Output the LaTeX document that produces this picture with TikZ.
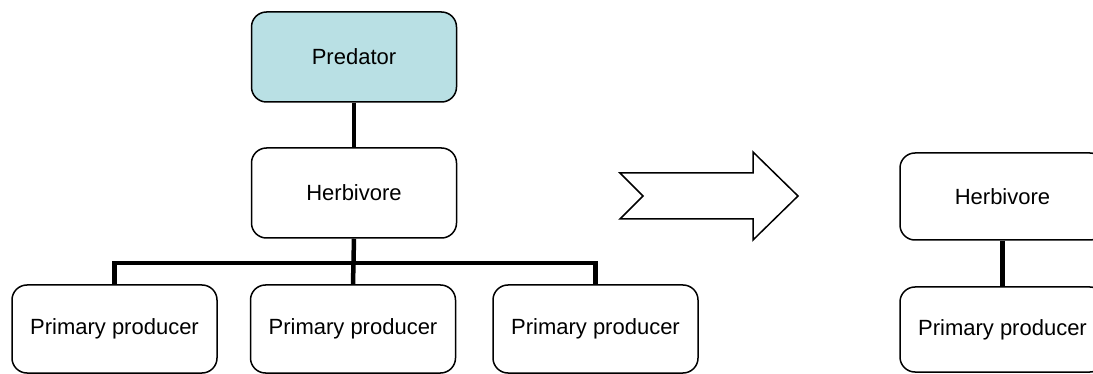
\documentclass[tikz,border=0pt]{standalone}
\usepackage{fontspec}
\setmainfont{Liberation Sans}
\definecolor{predfill}{RGB}{185,224,228}
\begin{document}
\begin{tikzpicture}[x=1pt,y=-1pt,
  box/.style={draw=black, line width=1.5pt, rounded corners=15pt, fill=white,
    minimum width=205pt, minimum height=#1, inner sep=0pt,
    font=\fontsize{22pt}{26pt}\selectfont},
  box/.default=88pt,
  link/.style={line width=4.5pt, line join=miter, line cap=rect}]
\useasboundingbox (0,0) rectangle (1093,374);
\begin{scope}
\clip (0,0) rectangle (1093,374);
% connectors (behind boxes)
\coordinate (bar) at (354,263);
\node[box=90pt, fill=predfill] (pred) at (354,57) {Predator};
\node[box=90pt] (herb) at (354,193) {Herbivore};
\node[box] (pp1) at (114.5,329) {Primary producer};
\node[box] (pp2) at (353,329) {Primary producer};
\node[box] (pp3) at (595.5,329) {Primary producer};
\node[box=87pt] (rherb) at (1002.5,196.5) {Herbivore};
\node[box=85pt] (rpp) at (1002.5,329.5) {Primary producer};
\begin{scope}[on background layer/.try]
\end{scope}
\draw[link, line cap=butt] (pred.south) -- (herb.north);
\draw[link, line cap=butt] (herb.south) -- (pp2.north);
\draw[link, line cap=butt] (pp1.north) |- (bar) -| (pp3.north);
\draw[link, line cap=butt] (rherb.south) -- (rpp.north);
% notched arrow
\draw[line width=1.5pt, line join=miter, fill=white]
  (620,173) -- (753,173) -- (753,152) -- (798,196) -- (753,240) -- (753,219)
  -- (620,219) -- (643,196) -- cycle;
\end{scope}
\end{tikzpicture}
\end{document}
